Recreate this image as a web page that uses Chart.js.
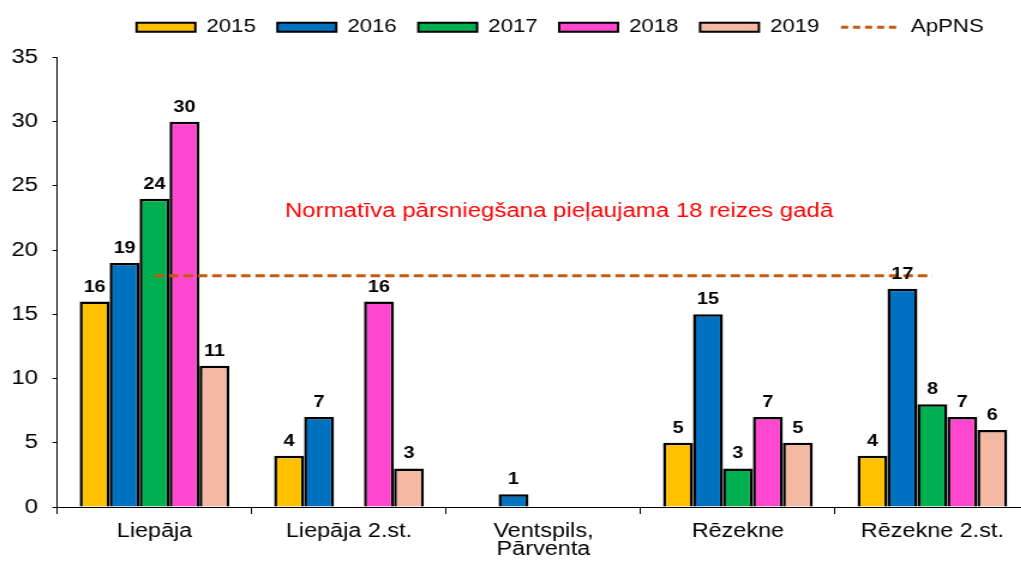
<!DOCTYPE html>
<html>
<head>
<meta charset="utf-8">
<script src="https://cdn.jsdelivr.net/npm/chart.js@4.4.0/dist/chart.umd.min.js"></script>
<style>
    html, body { margin: 0; padding: 0; background: #fff; overflow: hidden; }
    /* the original picture is stretched sideways, so we draw narrow and stretch */
    #wrap { width: 860px; height: 562px; transform: scaleX(1.2); transform-origin: 0 0; }
</style>
</head>
<body>
<div id="wrap"><canvas id="chart" width="860" height="562"></canvas></div>
<script>
// ======================
// DATA
// ======================
const categories = ['Liepāja', 'Liepāja 2.st.', ['Ventspils,', 'Pārventa'], 'Rēzekne', 'Rēzekne 2.st.'];
const years = ['2015', '2016', '2017', '2018', '2019'];
const values2015 = [16, 4, null, 5, 4];
const values2016 = [19, 7, 1, 15, 17];
const values2017 = [24, null, null, 3, 8];
const values2018 = [30, 16, null, 7, 7];
const values2019 = [11, 3, null, 5, 6];
const limitName = 'ApPNS';
const limitValues = [18, 18, 18, 18, 18];
const yMin = 0, yMax = 35, yStep = 5;
const noteText = 'Normatīva pārsniegšana pieļaujama 18 reizes gadā';

const FONT = '"Liberation Sans", Arial, sans-serif';
const colors = ['#FFC000', '#0070C0', '#00B050', '#FF47D0', '#F4B8A3'];
const series = [values2015, values2016, values2017, values2018, values2019];

// ======================
// PLUGINS
// ======================
const valueLabels = {
    id: 'valueLabels',
    afterDatasetsDraw(chart) {
        const ctx = chart.ctx;
        ctx.save();
        ctx.font = 'bold 16.5px ' + FONT;
        ctx.fillStyle = '#000';
        ctx.textAlign = 'center';
        ctx.textBaseline = 'alphabetic';
        chart.data.datasets.forEach((ds, i) => {
            if (ds.type === 'line') return;
            chart.getDatasetMeta(i).data.forEach((bar, j) => {
                const v = ds.data[j];
                if (v == null) return;
                ctx.fillText(String(v), bar.x, bar.y - 10);
            });
        });

        // note about the limit
        const x = chart.scales.x.getPixelForValue(2) + 13;
        const y = chart.scales.y.getPixelForValue(23);
        ctx.font = '20px ' + FONT;
        ctx.fillStyle = '#FF0000';
        ctx.textBaseline = 'middle';
        ctx.fillText(noteText, x, y);
        ctx.restore();
    }
};

const legendShift = {
    id: 'legendShift',
    afterLayout(chart) {
        chart.legend.left += 39;
        chart.legend.right += 39;
        chart.legend.top -= 11;
    }
};

// ======================
// CHART
// ======================
const datasets = series.map((vals, i) => ({
    type: 'bar',
    label: years[i],
    data: vals,
    backgroundColor: colors[i],
    borderColor: '#000',
    borderWidth: 2.5,
    pointStyle: 'rect',
    categoryPercentage: 0.77,
    barPercentage: 1.0,
    order: 1
}));

datasets.push({
    type: 'line',
    label: limitName,
    data: limitValues,
    borderColor: '#C55A11',
    borderWidth: 3,
    borderDash: [8, 4],
    pointRadius: 0,
    pointStyle: 'line',
    fill: false,
    order: 0
});

new Chart(document.getElementById('chart'), {
    data: { labels: categories, datasets },
    options: {
        responsive: false,
        animation: false,
        devicePixelRatio: 1,
        layout: { padding: { left: -2.5, right: 2, top: 11, bottom: 0 } },
        plugins: {
            tooltip: { enabled: false },
            legend: {
                position: 'top',
                labels: {
                    usePointStyle: true,
                    pointStyleWidth: 49,
                    boxHeight: 9,
                    padding: 18,
                    color: '#000',
                    font: { family: FONT, size: 18.5 },
                    sort: (a, b) => a.datasetIndex - b.datasetIndex,
                    generateLabels(chart) {
                        const items = Chart.defaults.plugins.legend.labels.generateLabels(chart);
                        items.forEach(it => {
                            const ds = chart.data.datasets[it.datasetIndex];
                            if (ds.type === 'line') {
                                it.lineDash = [6, 4];
                                it.lineWidth = ds.borderWidth;
                                it.strokeStyle = ds.borderColor;
                            } else {
                                it.lineWidth = 2;
                            }
                        });
                        return items;
                    }
                }
            }
        },
        scales: {
            x: {
                afterFit(scale) { scale.height = 55; },
                grid: { drawOnChartArea: false, tickLength: 7, color: '#000', lineWidth: 1 },
                border: { color: '#000', width: 1 },
                ticks: { color: '#000', padding: 9, maxRotation: 0, font: { family: FONT, size: 19.5, lineHeight: 0.92 } }
            },
            y: {
                min: yMin,
                max: yMax,
                grid: { drawOnChartArea: false, tickLength: 4, color: '#000', lineWidth: 1 },
                border: { color: '#000', width: 1 },
                ticks: { stepSize: yStep, color: '#000', padding: 12, font: { family: FONT, size: 20 } }
            }
        }
    },
    plugins: [valueLabels, legendShift]
});
</script>
</body>
</html>
